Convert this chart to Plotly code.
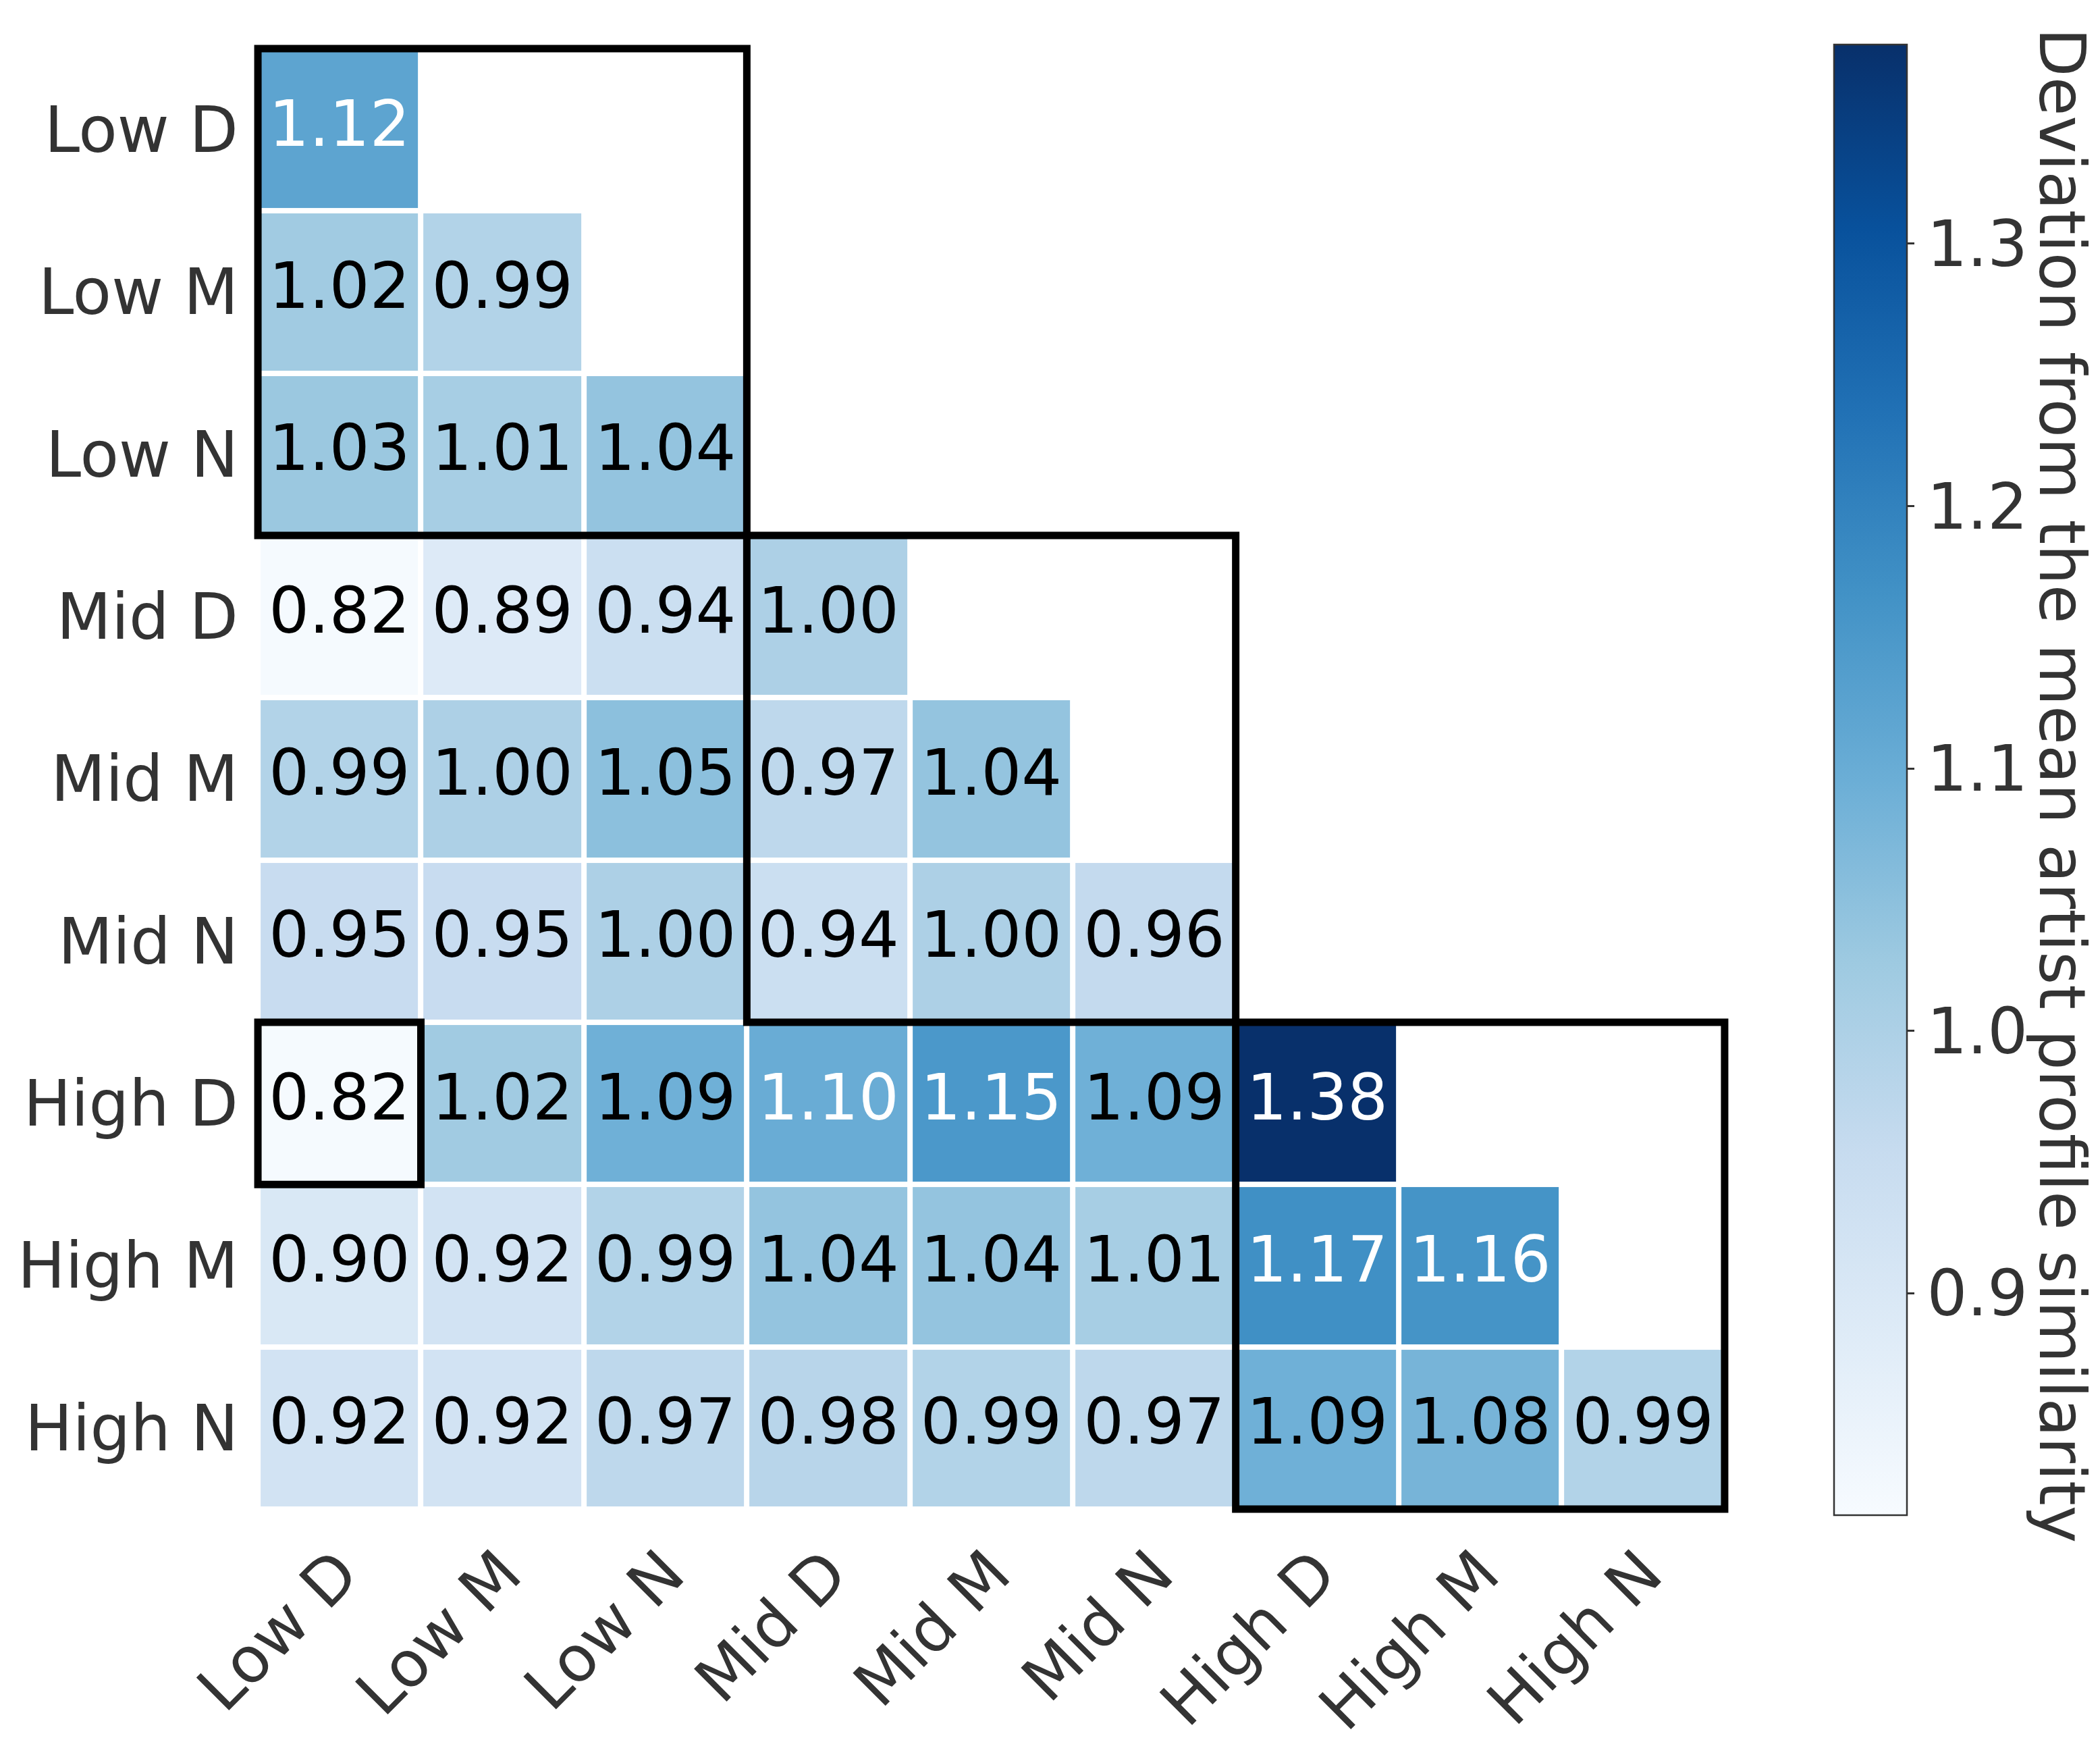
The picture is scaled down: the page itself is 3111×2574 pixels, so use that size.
import plotly.graph_objects as go

labels = ["Low D", "Low M", "Low N", "Mid D", "Mid M", "Mid N", "High D", "High M", "High N"]

row_low_d = [1.12]
row_low_m = [1.02, 0.99]
row_low_n = [1.03, 1.01, 1.04]
row_mid_d = [0.82, 0.89, 0.94, 1.00]
row_mid_m = [0.99, 1.00, 1.05, 0.97, 1.04]
row_mid_n = [0.95, 0.95, 1.00, 0.94, 1.00, 0.96]
row_high_d = [0.82, 1.02, 1.09, 1.10, 1.15, 1.09, 1.38]
row_high_m = [0.90, 0.92, 0.99, 1.04, 1.04, 1.01, 1.17, 1.16]
row_high_n = [0.92, 0.92, 0.97, 0.98, 0.99, 0.97, 1.09, 1.08, 0.99]

rows = [row_low_d, row_low_m, row_low_n, row_mid_d, row_mid_m,
        row_mid_n, row_high_d, row_high_m, row_high_n]

cbar_ticks = [0.9, 1.0, 1.1, 1.2, 1.3]
zmin, zmax = 0.8156, 1.376

# boxes: (col_start, col_end, row_start, row_end) as cell indices
boxes = [(0, 2, 0, 2), (3, 5, 3, 5), (6, 8, 6, 8), (0, 0, 6, 6)]

n = len(labels)
z = [[(r[j] if j < len(r) else None) for j in range(n)] for r in rows]

blues = [[0.0, "#f7fbff"], [0.125, "#deebf7"], [0.25, "#c6dbef"], [0.375, "#9ecae1"],
         [0.5, "#6baed6"], [0.625, "#4292c6"], [0.75, "#2171b5"], [0.875, "#08519c"],
         [1.0, "#08306b"]]

FONT = "DejaVu Sans"
FS = 94
GRAY = "#333333"
PAD = 0.05  # small extra axis room so the outer box lines are not clipped

fig = go.Figure()
fig.add_trace(go.Heatmap(
    z=z, x=list(range(n)), y=list(range(n)),
    colorscale=blues, zmin=zmin, zmax=zmax,
    xgap=8, ygap=8, hoverinfo="skip",
    colorbar=dict(
        x=1.0685, xanchor="left", y=0.4995, yanchor="middle",
        len=2178, lenmode="pixels", thickness=108,
        outlinewidth=2.5, outlinecolor=GRAY,
        tickvals=cbar_ticks, ticktext=[f"{t:.1f}" for t in cbar_ticks],
        ticks="outside", ticklen=10, tickwidth=2.5, tickcolor=GRAY,
        tickfont=dict(family=FONT, size=FS, color=GRAY),
        xpad=0, ypad=0,
    ),
))

tx, ty, tt, tc = [], [], [], []
for i, r in enumerate(rows):
    for j, v in enumerate(r):
        tx.append(j)
        ty.append(i)
        tt.append(f"{v:.2f}")
        tc.append("white" if v >= 1.095 else "black")

fig.add_trace(go.Scatter(
    x=tx, y=ty, text=tt, mode="text",
    textfont=dict(family=FONT, size=FS, color=tc),
    hoverinfo="skip", showlegend=False, cliponaxis=False,
))

for c0, c1, r0, r1 in boxes:
    fig.add_shape(type="rect", xref="x", yref="y",
                  x0=c0 - 0.5, x1=c1 + 0.5, y0=r0 - 0.5, y1=r1 + 0.5,
                  line=dict(color="black", width=11), layer="above")

fig.add_annotation(
    text="Deviation from the mean artist profile similarity",
    xref="paper", yref="paper", x=1.2215, y=0.4957,
    xanchor="center", yanchor="middle", textangle=90, showarrow=False,
    font=dict(family=FONT, size=FS, color=GRAY),
)

fig.update_xaxes(
    range=[-0.5 - PAD, n - 0.5 + PAD], tickvals=list(range(n)), ticktext=labels,
    tickangle=-45, showgrid=False, zeroline=False, showline=False,
    ticks="", tickfont=dict(family=FONT, size=FS, color=GRAY),
    ticklabelstandoff=8,
)
fig.update_yaxes(
    range=[n - 0.5 + PAD, -0.5 - PAD], tickvals=list(range(n)), ticktext=labels,
    showgrid=False, zeroline=False, showline=False,
    ticks="", tickfont=dict(family=FONT, size=FS, color=GRAY),
    ticklabelstandoff=16,
)

fig.update_layout(
    width=3111, height=2574,
    margin=dict(l=362, r=552, t=52, b=335, autoexpand=False),
    paper_bgcolor="white", plot_bgcolor="white",
    showlegend=False,
)

fig.write_html("out.html")
